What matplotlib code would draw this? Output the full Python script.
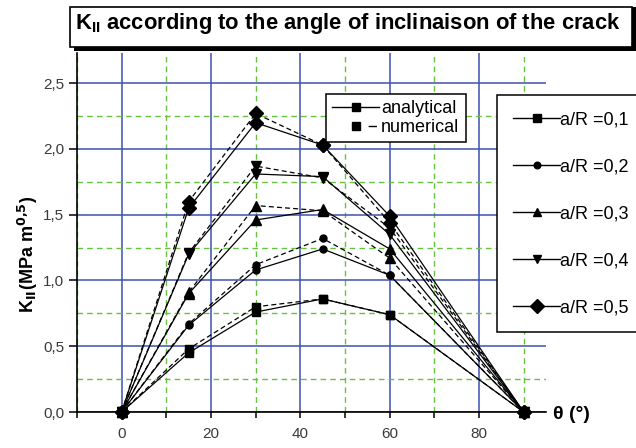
import matplotlib
matplotlib.use("Agg")
import matplotlib.pyplot as plt
from matplotlib.lines import Line2D
from matplotlib.patches import Rectangle

# Crack inclination angles (degrees)
theta = [0, 15, 30, 45, 60, 90]

# Crack size ratios
ratios = ["0,1", "0,2", "0,3", "0,4", "0,5"]
markers = ["s", "o", "^", "v", "D"]
msizes = [5.5, 5.0, 6.5, 6.5, 7.0]

# Mode II stress intensity factor, analytical solution (MPa m^0.5)
k2_analytical_01 = [0, 0.45, 0.76, 0.86, 0.74, 0]
k2_analytical_02 = [0, 0.66, 1.08, 1.24, 1.04, 0]
k2_analytical_03 = [0, 0.90, 1.46, 1.54, 1.24, 0]
k2_analytical_04 = [0, 1.20, 1.81, 1.79, 1.35, 0]
k2_analytical_05 = [0, 1.55, 2.20, 2.03, 1.49, 0]

# Mode II stress intensity factor, numerical solution (MPa m^0.5)
k2_numerical_01 = [0, 0.48, 0.80, 0.86, 0.74, 0]
k2_numerical_02 = [0, 0.67, 1.12, 1.32, 1.04, 0]
k2_numerical_03 = [0, 0.91, 1.57, 1.53, 1.17, 0]
k2_numerical_04 = [0, 1.21, 1.87, 1.78, 1.40, 0]
k2_numerical_05 = [0, 1.60, 2.27, 2.03, 1.44, 0]

analytical = [k2_analytical_01, k2_analytical_02, k2_analytical_03,
              k2_analytical_04, k2_analytical_05]
numerical = [k2_numerical_01, k2_numerical_02, k2_numerical_03,
             k2_numerical_04, k2_numerical_05]

plt.rcParams["font.family"] = ["Liberation Sans", "DejaVu Sans"]

fig = plt.figure(figsize=(6.36, 4.48), dpi=100)
ax = fig.add_axes([77 / 636, 1 - 412 / 448, (546 - 77) / 636, (412 - 53) / 448])

ax.set_xlim(-10, 95)
ax.set_ylim(0, 2.73)

ax.set_xticks([0, 20, 40, 60, 80])
ax.set_xticks([-10, 10, 30, 50, 70, 90], minor=True)
ax.set_yticks([0, 0.5, 1.0, 1.5, 2.0, 2.5])
ax.set_yticks([0.25, 0.75, 1.25, 1.75, 2.25], minor=True)
ax.set_yticklabels([f"{v:.1f}".replace(".", ",") for v in ax.get_yticks()])

blue = "#3e4fb0"
green = "#66c23e"
ax.grid(which="major", color=blue, lw=1.1, ls="-")
ax.grid(which="minor", color=green, lw=1.0, ls=(0, (4, 3)))
ax.set_axisbelow(True)

for s in ("top", "right"):
    ax.spines[s].set_visible(False)
for s in ("left", "bottom"):
    ax.spines[s].set_color("black")
    ax.spines[s].set_linewidth(1.2)

ax.tick_params(axis="y", which="major", length=6, width=1.1, pad=3,
               labelsize=11, labelcolor="#3a3a3a")
ax.tick_params(axis="y", which="minor", length=0)
ax.tick_params(axis="x", which="both", length=4, width=1.1, pad=7,
               labelsize=11, labelcolor="#3a3a3a")

# Curves: solid = analytical, dashed = numerical
for ya, yn, m, ms in zip(analytical, numerical, markers, msizes):
    ax.plot(theta, yn, color="black", lw=0.9, ls=(0, (4, 2.5)),
            marker=m, ms=ms, mfc="black", mec="black", clip_on=False, zorder=3)
    ax.plot(theta, ya, color="black", lw=0.9, ls="-",
            marker=m, ms=ms, mfc="black", mec="black", clip_on=False, zorder=4)

# Axis titles
fig.text(28 / 636, 1 - 254 / 448,
         r"K$_{\mathbf{II}}$(MPa m$^{\mathbf{0{,}5}}$)",
         rotation=90, ha="center", va="center", fontsize=13, fontweight="bold")
fig.text(553 / 636, 1 - 414 / 448, "θ (°)", ha="left", va="center",
         fontsize=14, fontweight="bold")

# Title in a shadowed frame
fig.patches.append(Rectangle((74 / 636, 1 - 51 / 448), 562 / 636, 44 / 448,
                             transform=fig.transFigure, facecolor="black",
                             edgecolor="black", lw=0, zorder=5))
fig.patches.append(Rectangle((70 / 636, 1 - 47 / 448), 562 / 636, 40 / 448,
                             transform=fig.transFigure, facecolor="white",
                             edgecolor="black", lw=1.2, zorder=6))
fig.text(75 / 636, 1 - 24 / 448,
         r"K$_{\mathregular{II}}$ according to the angle of inclinaison of the crack",
         ha="left", va="center", fontsize=15.8, fontweight="bold", zorder=7)

# Legend for the size ratios
ratio_handles = [Line2D([], [], color="black", lw=1.0, marker=m, ms=ms * 0.95,
                        mfc="black", mec="black")
                 for m, ms in zip(markers, msizes)]
leg1 = fig.legend(ratio_handles, [f"a/R =" + r for r in ratios],
                  loc="upper left", bbox_to_anchor=(497 / 636, 1 - 95 / 448),
                  bbox_transform=fig.transFigure, fontsize=13,
                  handlelength=2.6, handletextpad=0.0, labelspacing=1.66,
                  borderpad=0.9, borderaxespad=0, fancybox=False,
                  frameon=True, edgecolor="black", framealpha=1)
leg1.get_frame().set_linewidth(1.1)

# Legend for the solution method
method_handles = [
    Line2D([], [], color="black", lw=1.0, ls="-", marker="s", ms=6,
           mfc="black", mec="black"),
    Line2D([], [], color="black", lw=1.0, ls=(10, (6, 30)), marker="s", ms=6,
           mfc="black", mec="black"),
]
leg2 = fig.legend(method_handles, ["analytical", "numerical"],
                  loc="upper left", bbox_to_anchor=(326 / 636, 1 - 94 / 448),
                  bbox_transform=fig.transFigure, fontsize=13,
                  handlelength=2.6, handletextpad=0.1, labelspacing=0.1,
                  borderpad=0.35, borderaxespad=0, fancybox=False,
                  frameon=True, edgecolor="black", framealpha=1)
leg2.get_frame().set_linewidth(1.1)

fig.savefig("out.png", dpi=100)
